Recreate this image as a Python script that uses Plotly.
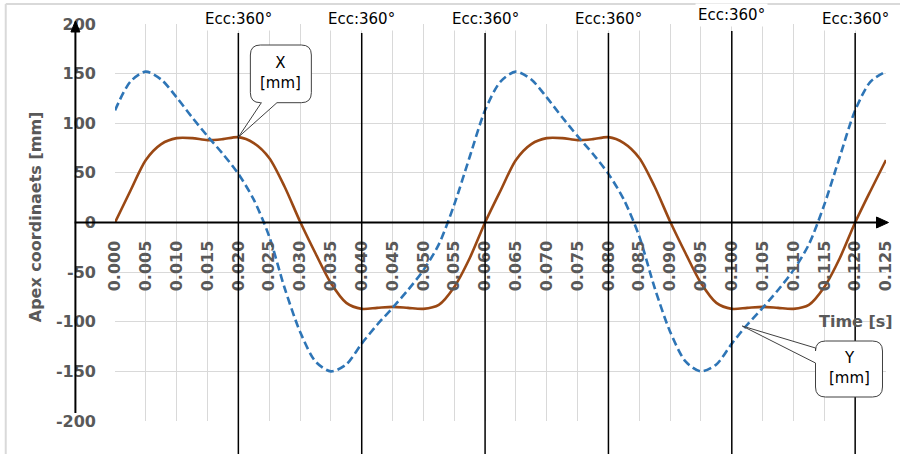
import plotly.graph_objects as go

# ---------------- data ----------------
time_s = [0.0000, 0.0025, 0.0050, 0.0075, 0.0100, 0.0125, 0.0150, 0.0175, 0.0200, 0.0225,
          0.0250, 0.0275, 0.0300, 0.0325, 0.0350, 0.0375, 0.0400, 0.0425, 0.0450, 0.0475,
          0.0500, 0.0525, 0.0550, 0.0575, 0.0600, 0.0625, 0.0650, 0.0675, 0.0700, 0.0725,
          0.0750, 0.0775, 0.0800, 0.0825, 0.0850, 0.0875, 0.0900, 0.0925, 0.0950, 0.0975,
          0.1000, 0.1025, 0.1050, 0.1075, 0.1100, 0.1125, 0.1150, 0.1175, 0.1200, 0.1225,
          0.1250]

x_mm = [0, 32, 63, 79, 85, 85, 83, 84, 86, 80,
        65, 36, 1, -31, -61, -81, -87, -86, -85, -86,
        -87, -83, -65, -36, 0, 32, 63, 79, 85, 85,
        83, 84, 86, 80, 65, 36, 1, -31, -61, -81,
        -87, -86, -85, -86, -87, -83, -65, -36, 0, 32,
        63]

y_mm = [113, 142, 152, 144, 126, 106, 87, 69, 49, 23,
        -14, -66, -110, -140, -150, -143, -122, -103, -86, -68,
        -48, -22, 18, 66, 113, 142, 152, 144, 126, 106,
        87, 69, 49, 23, -14, -66, -110, -140, -150, -143,
        -122, -103, -86, -68, -48, -22, 18, 66, 113, 142,
        152]

x_tick_vals = [0.000, 0.005, 0.010, 0.015, 0.020, 0.025, 0.030, 0.035, 0.040, 0.045,
               0.050, 0.055, 0.060, 0.065, 0.070, 0.075, 0.080, 0.085, 0.090, 0.095,
               0.100, 0.105, 0.110, 0.115, 0.120, 0.125]
x_tick_text = ["0.000", "0.005", "0.010", "0.015", "0.020", "0.025", "0.030", "0.035",
               "0.040", "0.045", "0.050", "0.055", "0.060", "0.065", "0.070", "0.075",
               "0.080", "0.085", "0.090", "0.095", "0.100", "0.105", "0.110", "0.115",
               "0.120", "0.125"]
y_tick_vals = [-200, -150, -100, -50, 0, 50, 100, 150, 200]
y_tick_text = ["-200", "-150", "-100", "-50", "0", "50", "100", "150", "200"]

ecc_times = [0.02, 0.04, 0.06, 0.08, 0.10, 0.12]
ecc_text = "Ecc:360°"

y_title = "Apex coordinaets [mm]"
x_title = "Time [s]"
x_callout = "X<br>[mm]"
y_callout = "Y<br>[mm]"

# ---------------- geometry helpers (pixels -> paper) ----------------
WIDTH, HEIGHT = 900, 454
PL, PR, PT, PB = 115.3, 886.5, 24.0, 421.0
XMIN, XMAX = 0.0, 0.125
YMIN, YMAX = -200, 200


def xp(px):
    return (px - PL) / (PR - PL)


def yp(py):
    return (PB - py) / (PB - PT)


def dx2p(t):
    return (t - XMIN) / (XMAX - XMIN)


def dy2p(v):
    return (v - YMIN) / (YMAX - YMIN)


def P(px, py):
    return f"{xp(px):.5f},{yp(py):.5f}"


def callout_bottom(x0, y0, x1, y1, r, wb1, wb2, tip):
    tx, ty = tip
    return (f"M{P(x0 + r, y0)} L{P(x1 - r, y0)} Q{P(x1, y0)} {P(x1, y0 + r)} "
            f"L{P(x1, y1 - r)} Q{P(x1, y1)} {P(x1 - r, y1)} L{P(wb2, y1)} "
            f"L{tx:.5f},{ty:.5f} L{P(wb1, y1)} L{P(x0 + r, y1)} "
            f"Q{P(x0, y1)} {P(x0, y1 - r)} L{P(x0, y0 + r)} Q{P(x0, y0)} {P(x0 + r, y0)} Z")


def callout_left(x0, y0, x1, y1, r, wb1, wb2, tip):
    tx, ty = tip
    return (f"M{P(x0 + r, y0)} L{P(x1 - r, y0)} Q{P(x1, y0)} {P(x1, y0 + r)} "
            f"L{P(x1, y1 - r)} Q{P(x1, y1)} {P(x1 - r, y1)} L{P(x0 + r, y1)} "
            f"Q{P(x0, y1)} {P(x0, y1 - r)} L{P(x0, wb2)} L{tx:.5f},{ty:.5f} "
            f"L{P(x0, wb1)} L{P(x0, y0 + r)} Q{P(x0, y0)} {P(x0 + r, y0)} Z")


GRID = "#D9D9D9"
LABEL = "#595959"
FONT = "DejaVu Sans"

fig = go.Figure()
fig.add_trace(go.Scatter(x=time_s, y=x_mm, mode="lines", name="X",
                         line=dict(color="#9A4814", width=2.6, shape="spline", smoothing=0.8)))
fig.add_trace(go.Scatter(x=time_s, y=y_mm, mode="lines", name="Y",
                         line=dict(color="#2E75B6", width=2.6, dash="8px,4px",
                                   shape="spline", smoothing=0.8)))

shapes = []
# outer light border (top and left)
shapes.append(dict(type="line", xref="paper", yref="paper", x0=xp(6), x1=xp(905),
                   y0=yp(4), y1=yp(4), line=dict(color=GRID, width=2), layer="below"))
shapes.append(dict(type="line", xref="paper", yref="paper", x0=xp(6), x1=xp(6),
                   y0=yp(4), y1=yp(460), line=dict(color=GRID, width=2), layer="below"))

# vertical Ecc lines
for t in ecc_times:
    top = 31 if abs(t - 0.10) < 1e-9 else 33
    shapes.append(dict(type="line", xref="x", yref="paper", x0=t, x1=t,
                       y0=yp(460), y1=yp(top), line=dict(color="black", width=1.5),
                       layer="above"))

# x axis line with arrow (at value 0)
y0p = dy2p(0)
shapes.append(dict(type="line", xref="paper", yref="paper", x0=xp(75), x1=xp(878),
                   y0=y0p, y1=y0p, line=dict(color="black", width=2), layer="above"))
shapes.append(dict(type="path", xref="paper", yref="paper",
                   path=f"M{xp(877):.5f},{y0p + 5.5 / (PB - PT):.5f} L{xp(889):.5f},{y0p:.5f} "
                        f"L{xp(877):.5f},{y0p - 5.5 / (PB - PT):.5f} Z",
                   fillcolor="black", line=dict(color="black", width=1), layer="above"))
# y axis line with arrow
shapes.append(dict(type="line", xref="paper", yref="paper", x0=xp(75.7), x1=xp(75.7),
                   y0=yp(413), y1=yp(31), line=dict(color="black", width=2), layer="above"))
shapes.append(dict(type="path", xref="paper", yref="paper",
                   path=f"M{xp(71.2):.5f},{yp(32):.5f} L{xp(75.7):.5f},{yp(21):.5f} "
                        f"L{xp(80.2):.5f},{yp(32):.5f} Z",
                   fillcolor="black", line=dict(color="black", width=1), layer="above"))

# callouts
x_tip = (dx2p(time_s[8]), dy2p(x_mm[8]))
shapes.append(dict(type="path", xref="paper", yref="paper",
                   path=callout_bottom(250.7, 45, 311.7, 102.7, 10, 261.7, 277.3, x_tip),
                   fillcolor="white", line=dict(color="#404040", width=1), layer="above"))
y_tip = (xp(742.7), yp(326))
shapes.append(dict(type="path", xref="paper", yref="paper",
                   path=callout_left(816, 341, 883, 397, 10, 348, 363, y_tip),
                   fillcolor="white", line=dict(color="#404040", width=1), layer="above"))

annotations = []
for t in ecc_times:
    ypos = yp(15) if abs(t - 0.10) < 1e-9 else yp(19)
    annotations.append(dict(x=t, y=ypos, xref="x", yref="paper", text=ecc_text,
                            showarrow=False, xanchor="center", yanchor="middle",
                            bgcolor="white", borderpad=2,
                            font=dict(family=FONT, size=15, color="black")))

annotations.append(dict(x=xp(36), y=yp(216.5), xref="paper", yref="paper", text=y_title,
                        textangle=-90, showarrow=False, xanchor="center", yanchor="middle",
                        font=dict(family=FONT, size=16, color=LABEL, weight="bold")))
annotations.append(dict(x=xp(896), y=yp(321.7), xref="paper", yref="paper", text=x_title,
                        showarrow=False, xanchor="right", yanchor="middle",
                        font=dict(family=FONT, size=16, color=LABEL, weight="bold")))
annotations.append(dict(x=xp(281.2), y=yp(73), xref="paper", yref="paper", text=x_callout,
                        showarrow=False, xanchor="center", yanchor="middle", align="center",
                        font=dict(family=FONT, size=15, color="black")))
annotations.append(dict(x=xp(849.5), y=yp(367.5), xref="paper", yref="paper", text=y_callout,
                        showarrow=False, xanchor="center", yanchor="middle", align="center",
                        font=dict(family=FONT, size=15, color="black")))

fig.update_layout(
    template="none",
    width=WIDTH, height=HEIGHT,
    margin=dict(l=PL, r=WIDTH - PR, t=PT, b=HEIGHT - PB, pad=0, autoexpand=False),
    paper_bgcolor="white", plot_bgcolor="white",
    showlegend=False,
    xaxis=dict(range=[XMIN, XMAX], tickmode="array", tickvals=x_tick_vals, ticktext=x_tick_text,
               tickangle=-90, anchor="free", position=dy2p(0), showline=False, automargin=False,
               showgrid=True, gridcolor=GRID, gridwidth=1, zeroline=False, ticks="",
               ticklabelstandoff=14,
               tickfont=dict(family=FONT, size=16, color=LABEL, weight="bold")),
    yaxis=dict(range=[YMIN, YMAX], tickmode="array", tickvals=y_tick_vals, ticktext=y_tick_text,
               showline=False, showgrid=True, gridcolor=GRID, gridwidth=1, zeroline=False,
               automargin=False, ticks="", ticklabelstandoff=18,
               tickfont=dict(family=FONT, size=16, color=LABEL, weight="bold")),
    shapes=shapes,
    annotations=annotations,
)

fig.write_html("out.html", config={"displayModeBar": False},
               post_script="document.body.style.margin='0';document.body.style.padding='0';")
